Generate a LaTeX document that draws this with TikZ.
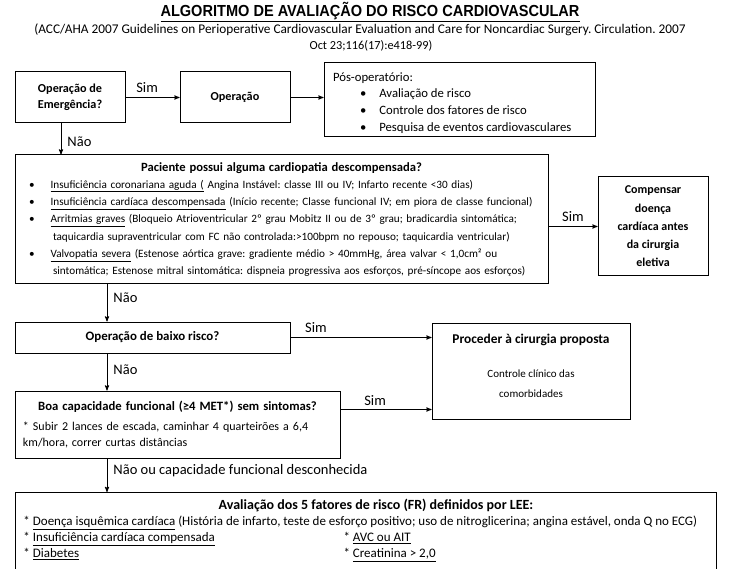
\documentclass[tikz,border=0pt]{standalone}
\usepackage{fontspec}
\setmainfont{Carlito}
\newfontfamily\headfont{Liberation Sans}
\usetikzlibrary{arrows,positioning}
\frenchspacing

\begin{document}
\begin{tikzpicture}[x=1pt,y=-1pt,>=stealth',
    frame/.style={draw,line width=1pt,inner sep=0pt},
    box/.style={frame,align=center,font=\fontsize{12.2}{16}\selectfont\bfseries},
    flow/.style={->,line width=0.9pt},
    answer/.style={font=\fontsize{14.5}{16}\selectfont,inner sep=2pt}]
  \useasboundingbox (0,0) rectangle (744,569);
  % title and reference
  \node (title) at (370,12) {\headfont\bfseries\fontsize{16}{18}\selectfont\scalebox{0.91}[1]{\underline{ALGORITMO DE AVALIAÇÃO DO RISCO CARDIOVASCULAR}}};
  \node[align=center,font=\fontsize{13.3}{16}\selectfont] (ref) at (360,37) {(ACC/AHA 2007 Guidelines on Perioperative Cardiovascular Evaluation and Care for Noncardiac Surgery. Circulation. 2007\\\hspace*{22pt}{\fontsize{12.3}{16}\selectfont Oct 23;116(17):e418-99)}};
  % first row
  \node[box,minimum width=110,minimum height=51] (emerg) at (70,97.5) {Operação de\\Emergência?};
  \node[box,minimum width=110,minimum height=51] (oper) at (235,97.5) {Operação};
  \node[frame,font=\fontsize{12.7}{16.7}\selectfont] (pos) at (459.5,99.5)
    {\parbox[c][74pt][t]{271pt}{\raggedright\vspace*{10pt}\hspace*{9pt}Pós-operatório:\par
     \hspace*{36pt}\textbullet\hspace{13pt}Avaliação de risco\par
     \hspace*{36pt}\textbullet\hspace{13pt}Controle dos fatores de risco\par
     \hspace*{36pt}\textbullet\hspace{13pt}Pesquisa de eventos cardiovasculares}};
  % cardiopatia
  \node[frame,minimum height=129,text width=533,align=left,
        font=\fontsize{11.2}{17.3}\selectfont] (cardio) at (281.5,219.5)
    {\makebox[533pt][c]{\fontsize{12.6}{17.3}\selectfont\bfseries Paciente possui alguma cardiopatia descompensada?}\\
     \hspace*{14pt}\textbullet\hspace{16pt}\underline{Insuficiência coronariana aguda (} Angina Instável: classe III ou IV; Infarto recente <30 dias)\\
     \hspace*{14pt}\textbullet\hspace{16pt}\underline{Insuficiência cardíaca descompensada} (Início recente; Classe funcional IV; em piora de classe funcional)\\
     \hspace*{14pt}\textbullet\hspace{16pt}\underline{Arritmias graves} (Bloqueio Atrioventricular 2º grau Mobitz II ou de 3º grau; bradicardia sintomática;\\
     \hspace*{38pt}taquicardia supraventricular com FC não controlada:>100bpm no repouso; taquicardia ventricular)\\
     \hspace*{14pt}\textbullet\hspace{16pt}\underline{Valvopatia severa} (Estenose aórtica grave: gradiente médio > 40mmHg, área valvar < 1,0cm² ou\\
     \hspace*{38pt}sintomática; Estenose mitral sintomática: dispneia progressiva aos esforços, pré-síncope aos esforços)};
  \node[box,minimum width=110,minimum height=99,font=\fontsize{12}{18.3}\selectfont\bfseries] (compens) at (653,226.5)
    {Compensar\\doença\\cardíaca antes\\da cirurgia\\eletiva};
  % risco da operacao
  \node[box,minimum width=275,minimum height=31,font=\fontsize{12.9}{16}\selectfont\bfseries] (baixo) at (152.5,337.5) {Operação de baixo risco?};
  \node[frame,font=\fontsize{11}{20}\selectfont] (proc) at (531,371)
    {\parbox[c][96pt][t]{198pt}{\centering\vspace*{11pt}{\fontsize{13.4}{20}\selectfont\bfseries Proceder à cirurgia proposta}\par
     \vspace{14pt}Controle clínico das\par comorbidades}};
  \node[frame,minimum width=325,minimum height=67,text width=309,align=left,
        font=\fontsize{12}{16}\selectfont] (boa) at (177.5,424.5)
    {\makebox[309pt][c]{\fontsize{12.7}{16}\selectfont\bfseries Boa capacidade funcional (≥4 MET*) sem sintomas?}\\[4pt]
     \makebox[295pt][s]{* Subir 2 lances de escada, caminhar 4 quarteirões a 6,4}\\
     km/hora, correr curtas distâncias};
  % fatores de Lee
  \node[frame,anchor=north west,font=\fontsize{13}{16}\selectfont] (lee) at (15,492)
    {\parbox[c][100pt][t]{701pt}{\vspace*{7pt}{\centering\hspace*{20pt}\fontsize{14}{16}\selectfont\bfseries Avaliação dos 5 fatores de risco (FR) definidos por LEE:\par}
     \hspace*{8pt}* \underline{Doença isquêmica cardíaca} (História de infarto, teste de esforço positivo; uso de nitroglicerina; angina estável, onda Q no ECG)\par
     \hspace*{8pt}\makebox[320pt][l]{* \underline{Insuficiência cardíaca compensada}}* \underline{AVC ou AIT}\par
     \hspace*{8pt}\makebox[320pt][l]{* \underline{Diabetes}}* \underline{Creatinina > 2,0}}};
  % connectors
  \coordinate (col) at (107,0);
  \draw[flow] (emerg) -- (oper) node[answer,pos=0.4,above=2.5pt] {Sim};
  \draw[flow] (oper) -- (oper -| pos.west);
  \draw[flow] ([xshift=-9pt]emerg.south) -- ([xshift=-9pt]emerg.south |- cardio.north)
    node[answer,pos=0.6,right=4pt] {Não};
  \draw[flow] (compens.west -| cardio.east) -- (compens.west) node[answer,midway,above=2.5pt] {Sim};
  \draw[flow] (cardio.south -| col) -- (baixo.north -| col) node[answer,pos=0.37,right=4pt] {Não};
  \draw[flow] (baixo) -- (baixo -| proc.west) node[answer,pos=0.18,above=2.5pt] {Sim};
  \draw[flow] (baixo.south -| col) -- (boa.north -| col) node[answer,pos=0.45,right=4pt] {Não};
  \draw[flow] ([yshift=15pt]boa.east) -- ([yshift=15pt]boa.east -| proc.west)
    node[answer,pos=0.38,above=1pt] {Sim};
  \draw[flow] (boa.south -| col) -- (lee.north -| col)
    node[answer,pos=0.36,right=4pt] {Não ou capacidade funcional desconhecida};
\end{tikzpicture}
\end{document}
